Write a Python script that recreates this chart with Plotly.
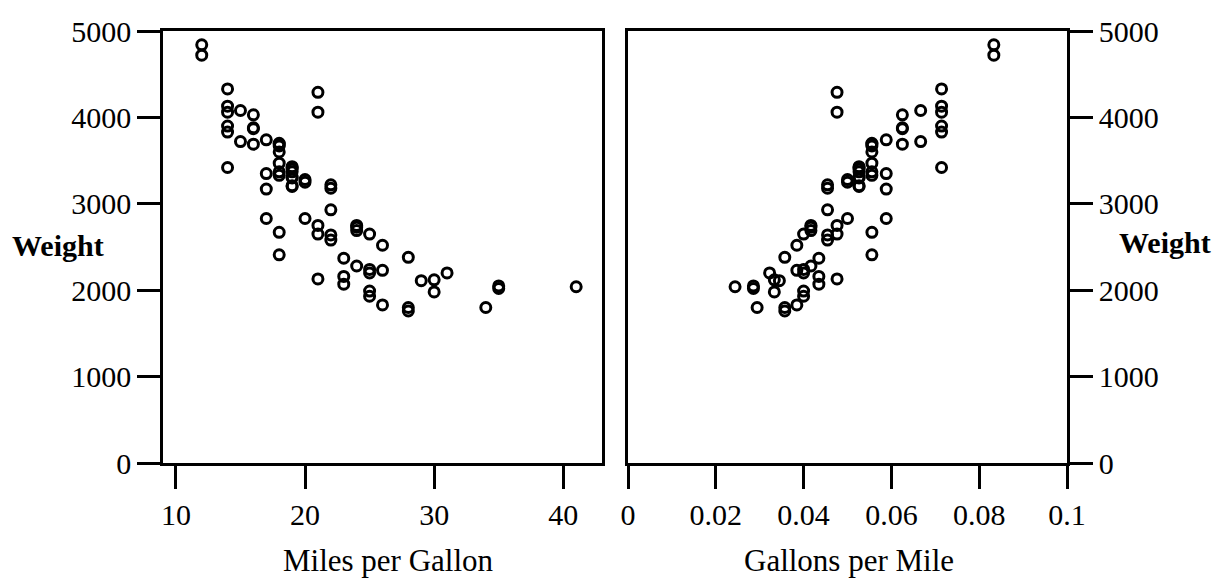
import plotly.graph_objects as go

# car data (one entry per car)
mpg = [22, 17, 22, 20, 15, 18, 26, 20, 16, 19,
       14, 14, 21, 29, 16, 22, 22, 24, 19, 30,
       18, 16, 17, 28, 21, 12, 12, 14, 22, 14,
       15, 18, 14, 20, 21, 19, 19, 18, 19, 24,
       16, 28, 34, 25, 26, 18, 18, 18, 19, 19,
       19, 24, 17, 23, 25, 23, 35, 24, 21, 21,
       25, 28, 30, 14, 26, 35, 18, 31, 18, 23,
       41, 25, 25, 17]
weight = [2930, 3350, 2640, 3250, 4080, 3670, 2230, 3280, 3880, 3400,
          4330, 3900, 4290, 2110, 3690, 3180, 3220, 2750, 3430, 2120,
          3600, 3870, 3740, 1800, 2650, 4840, 4720, 3830, 2580, 4060,
          3720, 3370, 4130, 2830, 4060, 3310, 3300, 3690, 3370, 2730,
          4030, 2380, 1800, 2200, 2520, 3330, 3700, 3470, 3210, 3200,
          3420, 2690, 2830, 2070, 2650, 2370, 2020, 2280, 2750, 2130,
          2240, 1760, 1980, 3420, 1830, 2050, 2410, 2200, 2670, 2160,
          2040, 1930, 1990, 3170]

# right panel is the same cars, just 1/mpg
gpm = [1 / m for m in mpg]

weight_ticks = [0, 1000, 2000, 3000, 4000, 5000]
mpg_ticks = [10, 20, 30, 40]
gpm_ticks = [0, 0.02, 0.04, 0.06, 0.08, 0.1]
gpm_tick_labels = ["0", "0.02", "0.04", "0.06", "0.08", "0.1"]

FONT = "Liberation Serif"
W, H = 1232, 581
OFF = 8  # page body margin shifts the whole figure by 8px


def px(x):
    """screen x pixel -> paper fraction"""
    return (x - OFF) / W


def py(y):
    """screen y pixel (from top) -> paper fraction"""
    return 1 - (y - OFF) / H


def _axis_style(**kw):
    """shared look for every axis - black box, long outside ticks
    automargin off so the domains stay where they are put"""
    style = dict(
        showline=True, mirror=True, linecolor="black", linewidth=2.5,
        ticks="outside", ticklen=23, tickwidth=2.5, tickcolor="black",
        showgrid=False, zeroline=False, automargin=False,
        tickfont=dict(family=FONT, size=30, color="black"),
    )
    style.update(kw)
    return style


fig = go.Figure()

marker = dict(symbol="circle-open", size=10, color="black",
              line=dict(color="black", width=3))

fig.add_trace(go.Scatter(x=mpg, y=weight, mode="markers", marker=marker,
                         xaxis="x", yaxis="y", showlegend=False))
fig.add_trace(go.Scatter(x=gpm, y=weight, mode="markers", marker=marker,
                         xaxis="x2", yaxis="y2", showlegend=False))

y_dom = [py(463), py(31)]

fig.update_layout(
    template="none",
    width=W, height=H,
    margin=dict(l=0, r=0, t=0, b=0),
    paper_bgcolor="white", plot_bgcolor="white",
    xaxis=_axis_style(domain=[px(163), px(602)], range=[9, 43],
                      tickvals=mpg_ticks, anchor="y"),
    yaxis=_axis_style(domain=y_dom, range=[0, 5000],
                      tickvals=weight_ticks, anchor="x"),
    xaxis2=_axis_style(domain=[px(628), px(1067)], range=[0, 0.1],
                       tickvals=gpm_ticks, ticktext=gpm_tick_labels,
                       anchor="y2"),
    yaxis2=_axis_style(domain=y_dom, range=[0, 5000], side="right",
                       tickvals=weight_ticks, anchor="x2"),
)

# axis titles as plain annotations, easier to place like the original
title_font = dict(family=FONT, size=31, color="black")
weight_font = dict(family=FONT, size=30, color="black")
labels = [
    ("Miles per Gallon", 388, 560, title_font),
    ("Gallons per Mile", 849, 560, title_font),
    ("<b>Weight</b>", 58, 245, weight_font),
    ("<b>Weight</b>", 1165, 242, weight_font),
]
for text, x, y, font in labels:
    fig.add_annotation(text=text, x=px(x), y=py(y), xref="paper", yref="paper",
                       xanchor="center", yanchor="middle",
                       showarrow=False, font=font)

fig.write_html("out.html")
